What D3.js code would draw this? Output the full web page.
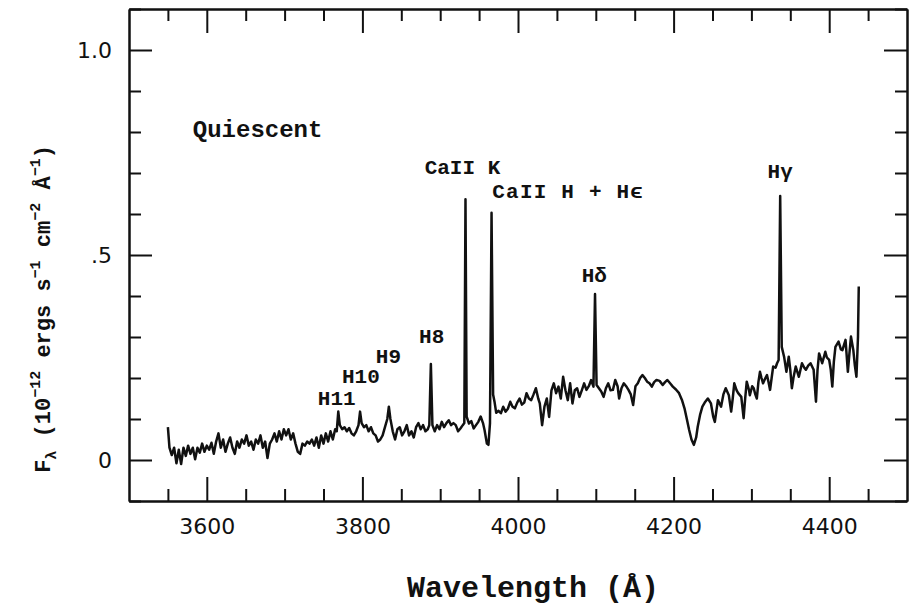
<!DOCTYPE html>
<html><head><meta charset="utf-8">
<script src="https://cdn.jsdelivr.net/npm/d3@7"></script>
<style>body{margin:0;background:#fff}svg{display:block}</style>
</head><body>
<script>
const wavelength = [3550,3552,3555,3558,3561,3564,3567,3570,3573,3576,3579,3582,3585,3588,3591,3594,3597,3600,3603,3606,3609,3612,3615,3618,3621,3624,3627,3630,3633,3636,3639,3642,3645,3648,3651,3654,3657,3660,3663,3666,3669,3672,3675,3678,3681,3684,3687,3690,3693,3696,3699,3702,3705,3708,3711,3714,3717,3720,3723,3726,3729,3732,3735,3738,3741,3744,3747,3750,3753,3756,3759,3762,3765,3767,3769,3771,3774,3777,3780,3783,3786,3789,3792,3795,3797,3799,3802,3805,3808,3811,3814,3817,3820,3823,3826,3829,3832,3834,3836,3839,3842,3845,3848,3851,3854,3857,3860,3863,3866,3869,3872,3875,3878,3881,3884,3886,3888,3890,3893,3896,3899,3902,3905,3908,3911,3914,3917,3920,3923,3926,3929,3931,3932.5,3934,3937,3940,3943,3946,3949,3952,3955,3957,3960,3962,3964,3966,3968,3970,3972,3975,3978,3981,3984,3987,3990,3993,3996,3999,4002,4005,4008,4011,4014,4017,4020,4023,4026,4028,4031,4034,4037,4040,4043,4046,4049,4052,4055,4058,4061,4064,4067,4070,4073,4076,4079,4082,4085,4088,4091,4094,4097,4099,4101,4104,4107,4110,4113,4116,4119,4122,4125,4128,4130,4133,4136,4139,4142,4145,4148,4151,4154,4157,4160,4163,4166,4169,4172,4175,4178,4182,4186,4189,4192,4196,4199,4203,4207,4211,4214,4217,4220,4223,4226,4229,4231,4234,4237,4240,4244,4248,4251,4253,4255,4257,4261,4264,4267,4271,4274,4276,4278,4281,4283,4287,4290,4292,4294,4297,4298,4301,4303,4305,4307,4309,4311,4313,4315,4318,4320,4322,4324,4326,4328,4331,4333,4335,4337,4339,4342,4345,4348,4350,4352,4354,4357,4361,4365,4368,4370,4373,4376,4380,4383,4385,4387,4391,4395,4397,4400,4402,4404,4406,4408,4412,4415,4417,4421,4424,4426,4428,4431,4433,4435,4436,4437,4438];
const flux = [0.08,0.03,0.012,0.03,-0.008,0.025,-0.01,0.03,0.01,0.035,0.015,0.03,0.002,0.03,0.018,0.04,0.02,0.035,0.025,0.042,0.015,0.045,0.065,0.03,0.05,0.02,0.04,0.055,0.03,0.015,0.045,0.03,0.05,0.04,0.06,0.035,0.045,0.025,0.05,0.04,0.06,0.03,0.045,0.005,0.04,0.05,0.065,0.045,0.07,0.05,0.075,0.06,0.075,0.05,0.065,0.04,0.02,0.015,0.04,0.035,0.045,0.04,0.05,0.035,0.055,0.03,0.06,0.04,0.065,0.045,0.07,0.05,0.075,0.07,0.118,0.085,0.075,0.08,0.07,0.078,0.065,0.06,0.07,0.085,0.118,0.09,0.08,0.085,0.07,0.08,0.065,0.06,0.045,0.05,0.06,0.08,0.1,0.13,0.1,0.07,0.05,0.075,0.08,0.06,0.07,0.085,0.06,0.07,0.055,0.08,0.09,0.075,0.085,0.07,0.075,0.085,0.234,0.085,0.07,0.085,0.075,0.093,0.08,0.09,0.097,0.085,0.09,0.085,0.07,0.077,0.085,0.09,0.636,0.106,0.089,0.095,0.077,0.085,0.093,0.106,0.09,0.073,0.04,0.037,0.09,0.603,0.16,0.14,0.115,0.12,0.114,0.13,0.118,0.125,0.142,0.13,0.126,0.14,0.15,0.135,0.14,0.163,0.15,0.146,0.16,0.175,0.15,0.138,0.085,0.13,0.15,0.105,0.17,0.187,0.163,0.179,0.15,0.203,0.17,0.146,0.187,0.138,0.17,0.175,0.154,0.17,0.187,0.171,0.18,0.195,0.179,0.405,0.183,0.175,0.167,0.154,0.175,0.187,0.17,0.171,0.195,0.18,0.15,0.175,0.187,0.18,0.171,0.16,0.134,0.18,0.187,0.2,0.207,0.2,0.191,0.187,0.179,0.19,0.195,0.193,0.183,0.19,0.195,0.186,0.179,0.172,0.163,0.145,0.126,0.1,0.073,0.05,0.037,0.055,0.081,0.11,0.13,0.14,0.15,0.138,0.105,0.093,0.12,0.146,0.13,0.16,0.175,0.158,0.118,0.15,0.187,0.17,0.163,0.154,0.102,0.15,0.191,0.17,0.158,0.18,0.175,0.16,0.15,0.19,0.215,0.2,0.187,0.2,0.207,0.19,0.171,0.2,0.228,0.225,0.236,0.244,0.644,0.276,0.252,0.215,0.252,0.22,0.175,0.2,0.228,0.203,0.236,0.225,0.22,0.23,0.236,0.22,0.142,0.22,0.26,0.236,0.264,0.25,0.244,0.22,0.179,0.24,0.276,0.289,0.27,0.268,0.293,0.215,0.26,0.301,0.268,0.23,0.203,0.25,0.3,0.423];

const xMajorTicks = [3600, 3800, 4000, 4200, 4400];
const xTickLabels = ["3600", "3800", "4000", "4200", "4400"];
const xMinorTicks = [3550,3650,3700,3750,3850,3900,3950,4050,4100,4150,4250,4300,4350,4450];
const yMajorTicks = [0, 0.5, 1.0];
const yTickLabels = ["0", ".5", "1.0"];
const yMinorTicks = [-0.1,0.1,0.2,0.3,0.4,0.6,0.7,0.8,0.9,1.1];

const lineLabels = ["H11", "H10", "H9", "H8", "CaII K", "CaII H + H\u03f5", "H\u03b4", "H\u03b3"];
const lineLabelWave = [3767, 3798, 3833.5, 3889, 3880, 3967, 4098, 4337];
const lineLabelFlux = [0.133, 0.187, 0.237, 0.285, 0.698, 0.638, 0.435, 0.688];
const lineLabelAnchor = ["middle","middle","middle","middle","start","start","middle","middle"];

const W = 911, H = 610;
const svg = d3.select("body").append("svg").attr("width", W).attr("height", H);
const x = d3.scaleLinear().domain([3500, 4500]).range([129, 907]);
const y = d3.scaleLinear().domain([-0.1, 1.1]).range([501, 9]);

const monoFont = "'Liberation Mono', 'DejaVu Sans Mono', monospace";
const numFont = "'DejaVu Sans', sans-serif";
const ink = "#111";

function styleAxis(g) {
  g.selectAll("path.domain").attr("stroke", ink).attr("stroke-width", 2);
  g.selectAll(".tick line").attr("stroke", ink).attr("stroke-width", 2);
  g.selectAll(".tick text").attr("fill", ink).style("font-family", numFont).style("font-size", "22px");
}

// bottom
svg.append("g").attr("transform", `translate(0,${y(-0.1)})`)
  .call(d3.axisBottom(x).tickValues(xMajorTicks).tickFormat((d,i)=>xTickLabels[i]).tickSize(-24).tickSizeOuter(0).tickPadding(17))
  .call(styleAxis);
svg.append("g").attr("transform", `translate(0,${y(-0.1)})`)
  .call(d3.axisBottom(x).tickValues(xMinorTicks).tickFormat("").tickSize(-12).tickSizeOuter(0))
  .call(styleAxis);
// top
svg.append("g").attr("transform", `translate(0,${y(1.1)})`)
  .call(d3.axisTop(x).tickValues(xMajorTicks).tickFormat("").tickSize(-24).tickSizeOuter(0))
  .call(styleAxis);
svg.append("g").attr("transform", `translate(0,${y(1.1)})`)
  .call(d3.axisTop(x).tickValues(xMinorTicks).tickFormat("").tickSize(-12).tickSizeOuter(0))
  .call(styleAxis);
// left
svg.append("g").attr("transform", `translate(${x(3500)},0)`)
  .call(d3.axisLeft(y).tickValues(yMajorTicks).tickFormat((d,i)=>yTickLabels[i]).tickSize(-23).tickSizeOuter(0).tickPadding(17))
  .call(styleAxis);
svg.append("g").attr("transform", `translate(${x(3500)},0)`)
  .call(d3.axisLeft(y).tickValues(yMinorTicks).tickFormat("").tickSize(-12).tickSizeOuter(0))
  .call(styleAxis);
// right
svg.append("g").attr("transform", `translate(${x(4500)},0)`)
  .call(d3.axisRight(y).tickValues(yMajorTicks).tickFormat("").tickSize(-23).tickSizeOuter(0))
  .call(styleAxis);
svg.append("g").attr("transform", `translate(${x(4500)},0)`)
  .call(d3.axisRight(y).tickValues(yMinorTicks).tickFormat("").tickSize(-12).tickSizeOuter(0))
  .call(styleAxis);

// spectrum
const pts = wavelength.map((w, i) => [w, flux[i]]);
svg.append("path").datum(pts)
  .attr("fill", "none").attr("stroke", ink).attr("stroke-width", 2.5).attr("stroke-linejoin", "round")
  .attr("d", d3.line().x(d => x(d[0])).y(d => y(d[1])));

// labels
svg.append("g").selectAll("text").data(lineLabels).join("text")
  .attr("x", (d,i) => x(lineLabelWave[i])).attr("y", (d,i) => y(lineLabelFlux[i]))
  .attr("text-anchor", (d,i) => lineLabelAnchor[i])
  .style("white-space", "pre").attr("xml:space", "preserve")
  .style("font-family", monoFont).style("font-size", "21px").style("font-weight", "bold")
  .style("letter-spacing", (d,i) => i === 5 ? "1.2px" : "0px")
  .attr("fill", ink).text(d => d);

svg.append("text").attr("x", x(3582)).attr("y", y(0.788))
  .style("font-family", monoFont).style("font-size", "24px").style("font-weight", "bold")
  .attr("fill", ink).text("Quiescent");

// x title
svg.append("text").attr("x", 533).attr("y", 597).attr("text-anchor", "middle")
  .style("font-family", monoFont).style("font-size", "30px").style("font-weight", "bold")
  .attr("fill", ink).text("Wavelength (\u00c5)");

// y title
const yt = svg.append("text").attr("transform", "translate(50,309) rotate(-90)")
  .attr("text-anchor", "middle").style("white-space", "pre").attr("xml:space", "preserve")
  .style("font-family", monoFont).style("font-size", "22px").style("font-weight", "bold").attr("fill", ink);
const parts = [["F",0],["\u03bb",1],[" (10",0],["\u221212",-1],[" ergs s",0],["\u22121",-1],[" cm",0],["\u22122",-1],[" \u00c5",0],["\u22121",-1],[")",0]];
let prev = 0;
parts.forEach(([t, lvl]) => {
  const off = lvl === 1 ? 6 : lvl === -1 ? -10 : 0;
  yt.append("tspan").attr("dy", off - prev).style("font-size", lvl === 0 ? "22px" : "15px").text(t);
  prev = off;
});
</script>
</body></html>
